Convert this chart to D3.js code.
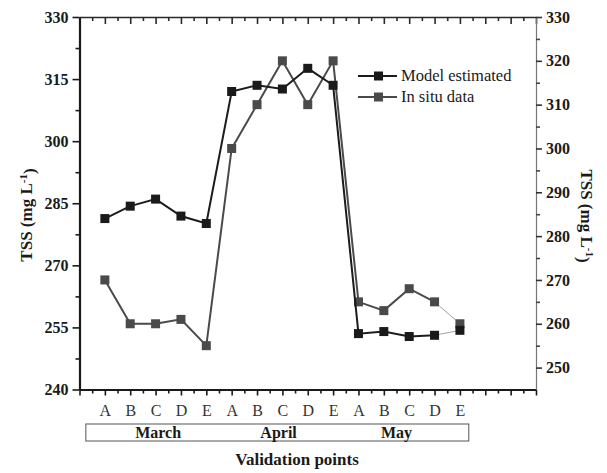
<!DOCTYPE html>
<html lang="en">
<head>
<meta charset="utf-8">
<title>TSS validation</title>
<script src="https://cdn.jsdelivr.net/npm/d3@7"></script>
<style>
  body { margin: 0; background: #fff; }
  svg text { font-family: "Liberation Serif", "Times New Roman", serif; fill: #1a1a1a; }
  .tickLbl text { font-size: 16px; font-weight: bold; }
  .xAxis text { font-size: 16px; font-weight: normal; fill: #333; }
  .month { font-size: 16px; font-weight: bold; }
  .axTitle { font-size: 17px; font-weight: bold; }
  .legTxt { font-size: 16.5px; }
</style>
</head>
<body>
<div class="chart"></div>
<script>
// validation points (3 months x 5 sites)
var points = ["A","B","C","D","E","A","B","C","D","E","A","B","C","D","E"];
var months = ["March","April","May"];
var monthPos = [3.1, 7.85, 12.5];   // label centres, in x-scale units

// model estimated -> left axis, in situ -> right axis
var modelEst = [281.3, 284.3, 286.0, 281.9, 280.1, 312.0, 313.5, 312.6, 317.6, 313.5, 253.5, 254.0, 252.8, 253.1, 254.3];
var inSitu   = [270, 260, 260, 261, 255, 300, 310, 320, 310, 320, 265, 263, 268, 265, 260];

var leftTicks  = [240, 255, 270, 285, 300, 315, 330];
var rightTicks = [250, 260, 270, 280, 290, 300, 310, 320, 330];

var w = 607, h = 473;
var padL = 79.5, padR = 536, padT = 17, padB = 389.5;

var svg = d3.select("div.chart").append("svg")
    .attr("width", w).attr("height", h);

var x = d3.scaleLinear().domain([0, 18]).range([padL, padR]);
var yL = d3.scaleLinear().domain([240, 330]).range([padB, padT]);
var yR = d3.scaleLinear().domain([245, 330]).range([padB, padT]);

var idx = d3.range(0, 19);
var half = d3.range(0, 18).map(function(d){ return d + 0.5; });

function style(g, col, sw) {
  g.selectAll("path.domain").attr("stroke", col).attr("stroke-width", sw);
  g.selectAll(".tick line").attr("stroke", col).attr("stroke-width", 1.6);
}

// top axis (ticks inward)
var gt = svg.append("g").attr("transform", "translate(0," + padT + ")")
  .call(d3.axisTop(x).tickValues(idx).tickSize(-7).tickSizeOuter(0).tickFormat(""));
style(gt, "#2a2a2a", 1.5);
var gt2 = svg.append("g").attr("transform", "translate(0," + padT + ")")
  .call(d3.axisTop(x).tickValues(half).tickSize(-4).tickSizeOuter(0).tickFormat(""));
gt2.select("path.domain").remove();
style(gt2, "#2a2a2a", 1.5);

// bottom axis
var gb = svg.append("g").attr("class", "xAxis").attr("transform", "translate(0," + padB + ")")
  .call(d3.axisBottom(x).tickValues(idx).tickSize(6).tickSizeOuter(0).tickPadding(9)
    .tickFormat(function(i){ return points[i - 1] || ""; }));
style(gb, "#1a1a1a", 2);
var gb2 = svg.append("g").attr("transform", "translate(0," + padB + ")")
  .call(d3.axisBottom(x).tickValues(half).tickSize(4).tickSizeOuter(0).tickFormat(""));
gb2.select("path.domain").remove();
style(gb2, "#1a1a1a", 2);

// left axis
var gl = svg.append("g").attr("class", "tickLbl").attr("transform", "translate(" + padL + ",0)")
  .call(d3.axisLeft(yL).tickValues(leftTicks).tickSize(7).tickSizeOuter(0).tickPadding(4));
style(gl, "#1a1a1a", 2.2);
var gl2 = svg.append("g").attr("transform", "translate(" + padL + ",0)")
  .call(d3.axisLeft(yL).tickValues(leftTicks.slice(1).map(function(d){ return d - 7.5; }))
    .tickSize(4).tickSizeOuter(0).tickFormat(""));
gl2.select("path.domain").remove();
style(gl2, "#1a1a1a", 2);

// right axis
var gr = svg.append("g").attr("class", "tickLbl").attr("transform", "translate(" + padR + ",0)")
  .call(d3.axisRight(yR).tickValues(rightTicks).tickSize(6).tickSizeOuter(0).tickPadding(4));
style(gr, "#777", 1.2);
gr.selectAll(".tick line").attr("stroke", "#333");
var gr2 = svg.append("g").attr("transform", "translate(" + padR + ",0)")
  .call(d3.axisRight(yR).tickValues(rightTicks.slice(1).map(function(d){ return d - 5; }))
    .tickSize(4).tickSizeOuter(0).tickFormat(""));
gr2.select("path.domain").remove();
style(gr2, "#444", 1);

// month box
svg.append("rect")
  .attr("x", x(0.25)).attr("y", 424)
  .attr("width", x(15.35) - x(0.25)).attr("height", 17)
  .attr("fill", "none").attr("stroke", "#555").attr("stroke-width", 1);
svg.selectAll("text.month").data(months).enter().append("text")
  .attr("class", "month")
  .attr("x", function(d, i){ return x(monthPos[i]); })
  .attr("y", 437.5)
  .attr("text-anchor", "middle")
  .text(function(d){ return d; });

// series
function drawSeries(vals, ys, lineCol, fillCol) {
  var pts = vals.map(function(v, i){ return [x(i + 1), ys(v)]; });
  var line = d3.line();
  svg.append("path").attr("d", line(pts.slice(0, pts.length - 1)))
    .attr("fill", "none").attr("stroke", lineCol).attr("stroke-width", 2);
  svg.append("path").attr("d", line(pts.slice(pts.length - 2)))
    .attr("fill", "none").attr("stroke", "#8a8a8a").attr("stroke-width", 0.8);
  svg.append("g").selectAll("rect").data(pts).enter().append("rect")
    .attr("x", function(d){ return d[0] - 4.5; })
    .attr("y", function(d){ return d[1] - 4.5; })
    .attr("width", 9).attr("height", 9)
    .attr("fill", fillCol);
}
drawSeries(inSitu, yR, "#4a4a4a", "#4a4a4a");
drawSeries(modelEst, yL, "#1c1c1c", "#1a1a1a");

// legend
var legend = [
  {name: "Model estimated", line: "#1c1c1c", fill: "#1a1a1a", y: 76},
  {name: "In situ data", line: "#4a4a4a", fill: "#4a4a4a", y: 97}
];
var lg = svg.append("g").selectAll("g").data(legend).enter().append("g");
lg.append("line").attr("x1", 358).attr("x2", 397)
  .attr("y1", function(d){ return d.y; }).attr("y2", function(d){ return d.y; })
  .attr("stroke", function(d){ return d.line; }).attr("stroke-width", 2);
lg.append("rect").attr("x", 374).attr("y", function(d){ return d.y - 4.5; })
  .attr("width", 9).attr("height", 9).attr("fill", function(d){ return d.fill; });
lg.append("text").attr("class", "legTxt").attr("x", 401)
  .attr("y", function(d){ return d.y + 5; })
  .text(function(d){ return d.name; });

// axis titles
function unitLabel(t) {
  t.append("tspan").text("TSS (mg L");
  t.append("tspan").attr("dy", "-0.45em").style("font-size", "11px").text("-1");
  t.append("tspan").attr("dy", "0.45em").text(")");
}
var yt = svg.append("text").attr("class", "axTitle")
  .attr("transform", "translate(32,215) rotate(-90)")
  .attr("text-anchor", "middle");
unitLabel(yt);
var yt2 = svg.append("text").attr("class", "axTitle")
  .attr("transform", "translate(581,216) rotate(90)")
  .attr("text-anchor", "middle");
unitLabel(yt2);

svg.append("text").attr("class", "axTitle")
  .attr("x", 297).attr("y", 465)
  .attr("text-anchor", "middle")
  .text("Validation points");
</script>
</body>
</html>
